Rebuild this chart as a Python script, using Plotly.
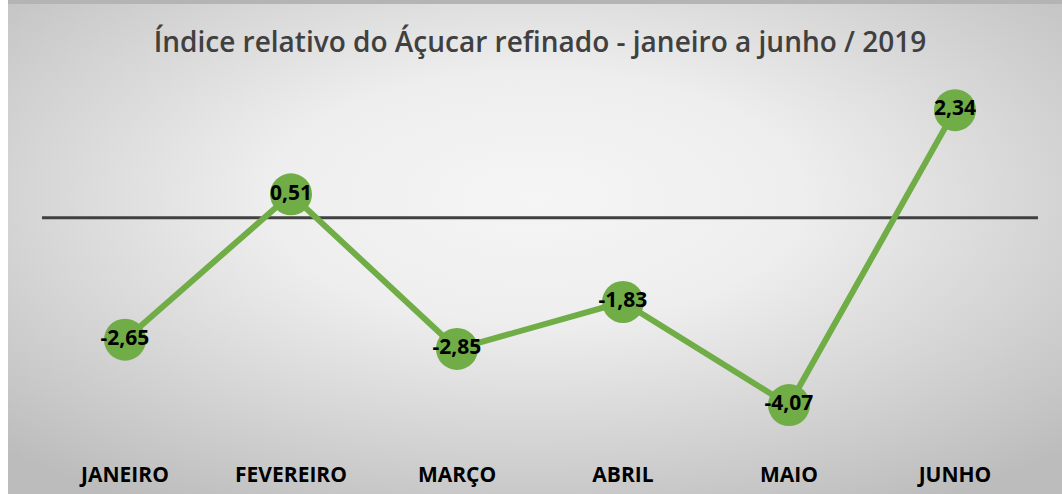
import base64
import plotly.graph_objects as go

months = ["JANEIRO", "FEVEREIRO", "MARÇO", "ABRIL", "MAIO", "JUNHO"]
values = [-2.65, 0.51, -2.85, -1.83, -4.07, 2.34]
labels = ["-2,65", "0,51", "-2,85", "-1,83", "-4,07", "2,34"]
title = "Índice relativo do Áçucar refinado - janeiro a junho / 2019"

W, H = 1062, 494
ML, MR, MT, MB = 42, 24, 60, 54
svg = f'''<svg xmlns="http://www.w3.org/2000/svg" width="{W}" height="{H}" viewBox="0 0 {W} {H}" preserveAspectRatio="none">
<defs><radialGradient id="g" cx="50%" cy="40%" r="72%">
<stop offset="0%" stop-color="#f5f5f5"/><stop offset="35%" stop-color="#eeeeee"/><stop offset="100%" stop-color="#bcbcbc"/>
</radialGradient></defs>
<rect x="0" y="0" width="{W}" height="{H}" fill="#ffffff"/>
<rect x="8" y="0" width="{W-8}" height="{H}" fill="url(#g)"/>
<rect x="8" y="0" width="{W-8}" height="4" fill="#b4b4b4"/>
</svg>'''
src = "data:image/svg+xml;base64," + base64.b64encode(svg.encode()).decode()

pw, ph = W - ML - MR, H - MT - MB

fig = go.Figure()
fig.add_trace(go.Scatter(
    x=months, y=values, mode="lines+markers+text",
    line=dict(color="#70AD47", width=6),
    marker=dict(color="#70AD47", size=42, line=dict(width=0)),
    text=labels, textposition="middle center",
    textfont=dict(family="Open Sans", size=21, color="#000000", weight="bold"),
    cliponaxis=False, hoverinfo="skip",
))
fig.add_shape(type="line", xref="paper", yref="y", x0=0, x1=1, y0=0, y1=0,
              line=dict(color="#404040", width=3), layer="below")

fig.update_layout(
    width=W, height=H, autosize=False,
    margin=dict(l=ML, r=MR, t=MT, b=MB, autoexpand=False),
    paper_bgcolor="rgba(0,0,0,0)", plot_bgcolor="rgba(0,0,0,0)",
    images=[dict(source=src, xref="paper", yref="paper",
                 x=-ML / pw, y=1 + MT / ph, sizex=W / pw, sizey=H / ph,
                 xanchor="left", yanchor="top", sizing="stretch", layer="below")],
    title=dict(text=title, x=540 / W, xanchor="center", y=1 - 42 / H, yanchor="middle",
               font=dict(family="Open Sans", size=28, color="#404040", weight=600)),
    showlegend=False,
    xaxis=dict(range=[-0.5, 5.5], showgrid=False, zeroline=False, showline=False,
               automargin=False,
               ticks="outside", ticklen=16, tickcolor="rgba(0,0,0,0)",
               tickfont=dict(family="Open Sans", size=21, color="#000000", weight="bold")),
    yaxis=dict(range=[-4.83, 3.43], showgrid=False, zeroline=False, showline=False,
               automargin=False, showticklabels=False, ticks=""),
)
fig.write_html("out.html", config={"responsive": False, "displayModeBar": False},
               post_script="document.body.style.margin='0';document.body.style.overflow='hidden';")
